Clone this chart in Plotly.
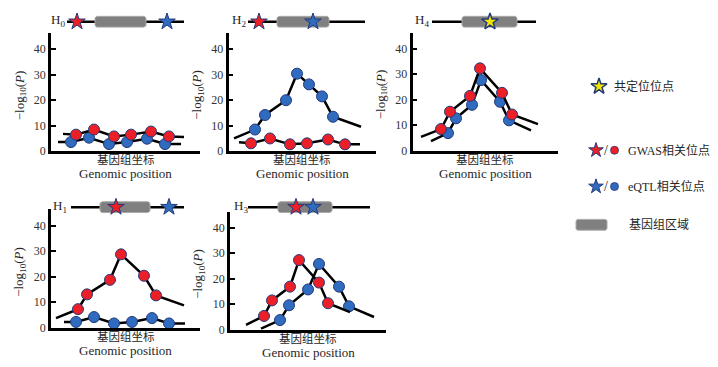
import numpy as np
import plotly.graph_objects as go

W, H = 718, 367
SERIF = "Liberation Serif, Noto Sans CJK SC, serif"
RED = "#ec1f27"
BLUE = "#2f6bbf"
YELLOW = "#f2e500"
EDGE = "#243a7a"
GRAY = "#808080"
TXT = "#262626"

# ---------------- data (genomic position, -log10 P) ----------------
# first and last entries are the line tails (no marker)
h0_gwas_x = [12, 25, 43, 63, 80, 100, 118, 133]
h0_gwas_p = [6.8, 6.5, 8.5, 5.8, 6.5, 7.7, 5.8, 5.6]
h0_eqtl_x = [7, 20, 38, 58, 76, 96, 114, 130]
h0_eqtl_p = [3.6, 3.6, 5.3, 2.8, 3.6, 4.9, 2.8, 2.8]
h0_track = [16, 133]
h0_region = [44, 95]
h0_stars = [(26, "gwas"), (116, "eqtl")]

h1_gwas_x = [5, 27, 36, 59, 70, 93, 105, 133]
h1_gwas_p = [3.8, 7.3, 13.1, 18.8, 28.8, 20.4, 12.7, 8.8]
h1_eqtl_x = [13, 25, 43, 63, 81, 101, 118, 134]
h1_eqtl_p = [2.3, 2.3, 4.2, 1.7, 2.3, 3.8, 1.7, 1.7]
h1_track = [20, 133]
h1_region = [49, 99]
h1_stars = [(65, "gwas"), (118, "eqtl")]

h2_gwas_x = [10.5, 22.5, 41.5, 61.5, 78.5, 99.5, 116.5, 131.5]
h2_gwas_p = [3.5, 3.1, 5.0, 2.7, 3.1, 4.6, 2.7, 2.7]
h2_eqtl_x = [5.5, 26.5, 36.5, 57.5, 68.5, 80.5, 93.5, 104.5, 132.5]
h2_eqtl_p = [5.0, 8.5, 14.2, 20.0, 30.4, 26.2, 21.5, 13.5, 9.6]
h2_track = [19.5, 136.5]
h2_region = [48.5, 100.5]
h2_stars = [(30.5, "gwas"), (84.5, "eqtl")]

h3_gwas_x = [16, 34, 42, 60, 69, 89, 98, 120]
h3_gwas_p = [1.9, 5.4, 11.5, 16.9, 27.3, 18.5, 10.4, 6.9]
h3_eqtl_x = [31, 50, 59, 78, 89, 109, 119, 144]
h3_eqtl_p = [0.4, 3.8, 9.6, 15.8, 25.8, 16.9, 9.2, 5.0]
h3_track = [18, 140]
h3_region = [48, 102]
h3_stars = [(66, "gwas"), (83, "eqtl")]

h4_gwas_x = [8.5, 28.5, 37.5, 57.5, 67.5, 89.5, 99.5, 125.5]
h4_gwas_p = [5.4, 8.5, 15.3, 21.5, 32.3, 22.7, 14.2, 10.4]
h4_eqtl_x = [18.5, 35.5, 43.5, 59.5, 68.5, 87.5, 96.5, 118.5]
h4_eqtl_p = [3.8, 6.9, 12.7, 18.0, 27.7, 19.2, 11.9, 8.0]
h4_track = [19.5, 123.5]
h4_region = [49.5, 104.5]
h4_stars = [(77.5, "coloc")]

y_ticks = [0, 10, 20, 30, 40]
xlab_cn = "基因组坐标"
xlab_en = "Genomic position"
ylab = "−log<sub>10</sub>(<i>P</i>)"
legend_labels = ["共定位位点", "GWAS相关位点", "eQTL相关位点", "基因组区域"]

# ---------------- layout geometry (pixels) ----------------
panels = [
    dict(label="H<sub>0</sub>", lab_x=7, gx=h0_gwas_x, gp=h0_gwas_p, ex=h0_eqtl_x, ep=h0_eqtl_p,
         track=h0_track, region=h0_region, stars=h0_stars, box=(43, 192, 146, 25), ty=14),
    dict(label="H<sub>2</sub>", lab_x=10.5, gx=h2_gwas_x, gp=h2_gwas_p, ex=h2_eqtl_x, ep=h2_eqtl_p,
         track=h2_track, region=h2_region, stars=h2_stars, box=(220.5, 368, 146, 25), ty=14),
    dict(label="H<sub>4</sub>", lab_x=9.5, gx=h4_gwas_x, gp=h4_gwas_p, ex=h4_eqtl_x, ep=h4_eqtl_p,
         track=h4_track, region=h4_region, stars=h4_stars, box=(404.5, 550, 145.5, 25), ty=14),
    dict(label="H<sub>1</sub>", lab_x=9, gx=h1_gwas_x, gp=h1_gwas_p, ex=h1_eqtl_x, ep=h1_eqtl_p,
         track=h1_track, region=h1_region, stars=h1_stars, box=(43, 192, 326, 205), ty=203),
    dict(label="H<sub>3</sub>", lab_x=10.5, gx=h3_gwas_x, gp=h3_gwas_p, ex=h3_eqtl_x, ep=h3_eqtl_p,
         track=h3_track, region=h3_region, stars=h3_stars, box=(222, 378, 328, 208), ty=203),
]
PX_PER_UNIT = 2.6
TRACK_HALF = 9.0  # px


def fx(px):
    return px / W


def fy(py):
    return 1 - py / H


def rounded_rect(x0, x1, hh, rx, ry, n=5):
    xs, ys = [], []
    corners = [(x1 - rx, -hh + ry, -np.pi / 2, 0), (x1 - rx, hh - ry, 0, np.pi / 2),
               (x0 + rx, hh - ry, np.pi / 2, np.pi), (x0 + rx, -hh + ry, np.pi, 1.5 * np.pi)]
    for cx, cy, a0, a1 in corners:
        for a in np.linspace(a0, a1, n):
            xs.append(cx + rx * np.cos(a))
            ys.append(cy + ry * np.sin(a))
    xs.append(xs[0]); ys.append(ys[0])
    return xs, ys


star_style = {
    "gwas": dict(color=RED, line=dict(color=EDGE, width=1)),
    "eqtl": dict(color=BLUE, line=dict(color=EDGE, width=1)),
    "coloc": dict(color=YELLOW, line=dict(color=EDGE, width=1.5)),
}

fig = go.Figure()
layout = dict(width=W, height=H, margin=dict(l=0, r=0, t=0, b=0), showlegend=False,
              paper_bgcolor="white", plot_bgcolor="rgba(0,0,0,0)",
              font=dict(family=SERIF, color=TXT, size=12))
annotations = []

for i, p in enumerate(panels, start=1):
    x0, x1, y0, ytop = p["box"]
    xa, ya, ta = f"x{i}", f"y{i}", f"y{i + 5}"
    layout[f"xaxis{i}"] = dict(domain=[fx(x0), fx(x1)], range=[0, x1 - x0], anchor=ya,
                               showline=True, linecolor="black", linewidth=2.5, showgrid=False,
                               zeroline=False, showticklabels=False, ticks="", fixedrange=True)
    layout[f"yaxis{i}"] = dict(domain=[fy(y0), fy(ytop)], range=[0, (y0 - ytop) / PX_PER_UNIT],
                               anchor=xa, showline=True, linecolor="black", linewidth=2.5,
                               showgrid=False, zeroline=False, tickvals=y_ticks, ticks="inside",
                               ticklen=5, tickwidth=2, tickcolor="black",
                               tickfont=dict(family=SERIF, size=12, color="#333333"),
                               fixedrange=True)
    layout[f"yaxis{i + 5}"] = dict(domain=[fy(p["ty"] + TRACK_HALF), fy(p["ty"] - TRACK_HALF)],
                                   range=[-1, 1], anchor=xa, visible=False, fixedrange=True)

    # association lines and points
    for xs, ps, col in [(p["ex"], p["ep"], BLUE), (p["gx"], p["gp"], RED)]:
        fig.add_trace(go.Scatter(x=xs, y=ps, xaxis=xa, yaxis=ya, mode="lines",
                                 line=dict(color="black", width=2.5), cliponaxis=False,
                                 hoverinfo="skip"))
        fig.add_trace(go.Scatter(x=xs[1:-1], y=ps[1:-1], xaxis=xa, yaxis=ya, mode="markers",
                                 marker=dict(symbol="circle", size=11, color=col,
                                             line=dict(color=EDGE, width=1)),
                                 cliponaxis=False))

    # genomic track
    fig.add_trace(go.Scatter(x=p["track"], y=[0, 0], xaxis=xa, yaxis=ta, mode="lines",
                             line=dict(color="black", width=2.5), cliponaxis=False,
                             hoverinfo="skip"))
    hh = 5.5 / TRACK_HALF
    rxs, rys = rounded_rect(p["region"][0], p["region"][1], hh, 2.5, 2.5 / TRACK_HALF)
    fig.add_trace(go.Scatter(x=rxs, y=rys, xaxis=xa, yaxis=ta, mode="lines", fill="toself",
                             fillcolor=GRAY, line=dict(color="#a9a9a9", width=1),
                             cliponaxis=False, hoverinfo="skip"))
    for pos, kind in p["stars"]:
        fig.add_trace(go.Scatter(x=[pos], y=[0], xaxis=xa, yaxis=ta, mode="markers",
                                 marker=dict(symbol="star", size=12.5, **star_style[kind]),
                                 cliponaxis=False))
    annotations.append(dict(text=p["label"], x=p["lab_x"], y=0.1, xref=xa, yref=ta,
                            showarrow=False, xanchor="center", yanchor="middle",
                            font=dict(family=SERIF, size=13, color=TXT)))

    # axis captions
    xc = fx((x0 + x1) / 2)
    annotations.append(dict(text=xlab_cn, x=xc, y=fy(y0 + 8), xref="paper", yref="paper",
                            showarrow=False, xanchor="center", yanchor="middle",
                            font=dict(family="Noto Sans CJK SC", size=11.5, color=TXT)))
    annotations.append(dict(text=xlab_en, x=xc, y=fy(y0 + 23), xref="paper", yref="paper",
                            showarrow=False, xanchor="center", yanchor="middle",
                            font=dict(family="Liberation Serif", size=13, color=TXT)))
    annotations.append(dict(text=ylab, x=fx(x0 - 31), y=fy(y0 - 57), xref="paper", yref="paper",
                            showarrow=False, xanchor="center", yanchor="middle", textangle=-90,
                            font=dict(family="Liberation Serif", size=13, color=TXT)))

# ---------------- custom legend (overlay axes in pixel space) ----------------
layout["xaxis11"] = dict(domain=[0, 1], range=[0, W], anchor="y11", visible=False, fixedrange=True)
layout["yaxis11"] = dict(domain=[0, 1], range=[H, 0], anchor="x11", visible=False, fixedrange=True)
row_y = [80, 145, 182, 221]
text_x = [604, 618, 618, 619]
fig.add_trace(go.Scatter(x=[591], y=[row_y[0]], xaxis="x11", yaxis="y11", mode="markers",
                         marker=dict(symbol="star", size=12, **star_style["coloc"]), cliponaxis=False))
for r, kind, col in [(1, "gwas", RED), (2, "eqtl", BLUE)]:
    fig.add_trace(go.Scatter(x=[588], y=[row_y[r]], xaxis="x11", yaxis="y11", mode="markers",
                             marker=dict(symbol="star", size=11, **star_style[kind]), cliponaxis=False))
    fig.add_trace(go.Scatter(x=[606.5], y=[row_y[r]], xaxis="x11", yaxis="y11", mode="markers",
                             marker=dict(symbol="circle", size=8, color=col,
                                         line=dict(color=EDGE, width=0.8)), cliponaxis=False))
    annotations.append(dict(text="/", x=597.5, y=row_y[r], xref="x11", yref="y11", showarrow=False,
                            xanchor="center", yanchor="middle",
                            font=dict(family="Liberation Serif", size=14, color=TXT)))
lx, ly = rounded_rect(568, 599, 5.5, 2, 2)
fig.add_trace(go.Scatter(x=lx, y=list(np.array(ly) + row_y[3]), xaxis="x11", yaxis="y11",
                         mode="lines", fill="toself", fillcolor=GRAY,
                         line=dict(color="#a9a9a9", width=1), cliponaxis=False, hoverinfo="skip"))
for r, lab in enumerate(legend_labels):
    annotations.append(dict(text=lab, x=text_x[r], y=row_y[r], xref="x11", yref="y11",
                            showarrow=False, xanchor="left", yanchor="middle",
                            font=dict(family=SERIF, size=12, color=TXT)))

layout["annotations"] = annotations
fig.update_layout(**layout)
fig.write_html("out.html")
